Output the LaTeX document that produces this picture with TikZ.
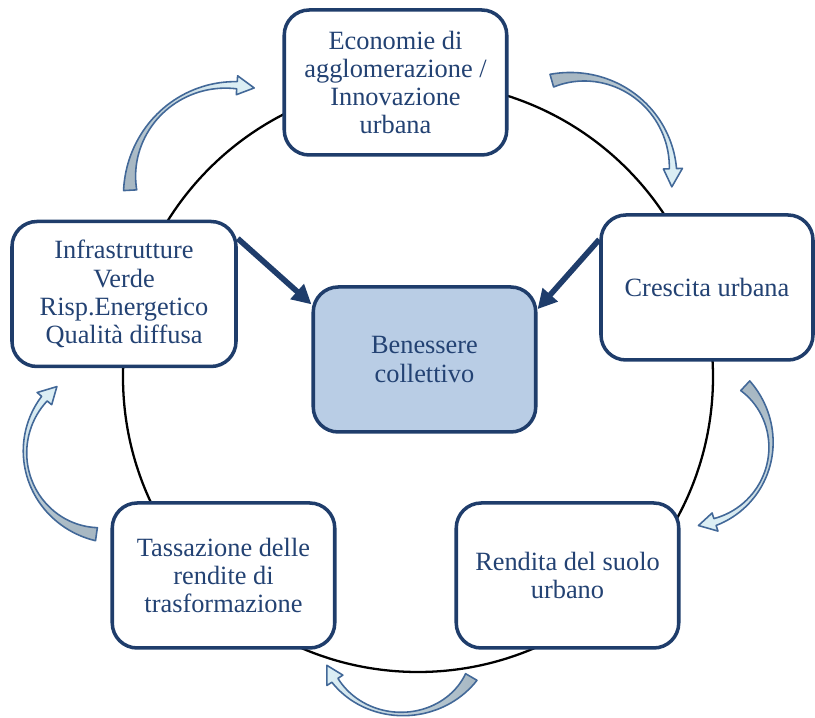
\documentclass[tikz,border=0pt]{standalone}
\usepackage{fontspec}
\setmainfont{Liberation Serif}
\usetikzlibrary{arrows.meta,positioning,calc}
\definecolor{boxblue}{RGB}{31,61,107}
\definecolor{textblue}{RGB}{35,66,115}
\definecolor{corefill}{RGB}{185,205,229}
\definecolor{tailgray}{RGB}{168,184,195}
\definecolor{headblue}{RGB}{219,238,244}
\definecolor{swooshline}{RGB}{66,104,152}

\tikzset{
  stage/.style={draw=boxblue, line width=2pt, rounded corners=0.5cm, fill=white,
    text=textblue, align=center, minimum width=4.45cm, minimum height=2.9cm,
    font=\fontsize{15}{16}\selectfont},
  core/.style={stage, fill=corefill},
  feed/.style={draw=boxblue, line width=3.2pt, -{Triangle[length=11pt,width=11pt]}},
  ring/.style={line width=1.3pt},
  declare function={swh(\tA,\tB,\tC)=0.012
    +0.12*(1-(\tB-\tA)/(\tB-\tC))*(1-(\tB-\tA)/(\tB-\tC))*(1-(\tB-\tA)/(\tB-\tC))
    +0.06*((\tB-\tA)/(\tB-\tC))*((\tB-\tA)/(\tB-\tC))*((\tB-\tA)/(\tB-\tC));}
}

% curved arrow: cx, cy, rx, ry, tail angle, head base angle, tip angle, shading angle
\newcommand{\cyclearrow}[8]{%
  \shadedraw[top color=headblue, bottom color=tailgray, shading angle=#8,
    draw=swooshline, line width=0.9pt, line join=round]
    plot[domain=#5:#6, samples=40, smooth]
      ({#1+(#3+swh(\x,#5,#6))*cos(\x)}, {#2+(#4+swh(\x,#5,#6))*sin(\x)})
    -- ({#1+(#3+0.19)*cos(#6)}, {#2+(#4+0.19)*sin(#6)})
    -- ({#1+#3*cos(#7)}, {#2+#4*sin(#7)})
    -- ({#1+(#3-0.19)*cos(#6)}, {#2+(#4-0.19)*sin(#6)})
    -- plot[domain=#6:#5, samples=40, smooth]
      ({#1+(#3-swh(\x,#5,#6))*cos(\x)}, {#2+(#4-swh(\x,#5,#6))*sin(\x)})
    -- cycle;}

\begin{document}
\begin{tikzpicture}
  \useasboundingbox (-8.36,-6.82) rectangle (7.94,7.54);

  % ring behind the boxes
  \draw[ring] (0,0) circle (5.9);

  % boxes on the ring
  \node[stage] (econ) at (-0.45,5.89) {Economie di\\agglomerazione /\\Innovazione\\urbana};
  \node[stage, minimum width=4.24cm] (growth) at (5.78,1.79) {Crescita urbana};
  \node[stage, minimum width=4.48cm] (infra) at (-5.88,1.66) {Infrastrutture\\Verde\\Risp.Energetico\\Qualità diffusa};
  \node[stage] (rent) at (2.99,-3.97) {Rendita del suolo\\urbano};
  \node[stage] (tax) at (-3.89,-3.97) {Tassazione delle\\rendite di\\trasformazione};
  \node[core] (welfare) at (0.13,0.35) {Benessere\\collettivo};

  % arrows into the centre
  \draw[feed] (infra.26.6) -- (welfare.154);
  \draw[feed] (growth.156) -- (welfare.24.6);

  % curved arrows round the ring
  \cyclearrow{-3.76}{3.84}{2.0}{2.0}{183}{86}{76}{-50}
  \cyclearrow{3.2}{4.1}{1.9}{1.9}{106}{2}{-9}{-129}
  \cyclearrow{5.44}{-1.36}{1.62}{1.62}{47}{-72}{-84}{161}
  \cyclearrow{-0.32}{-5.26}{1.6}{1.48}{-30}{-147}{-160}{85}
  \cyclearrow{-6.2}{-1.5}{1.66}{1.66}{262}{140}{128}{20}
\end{tikzpicture}
\end{document}
